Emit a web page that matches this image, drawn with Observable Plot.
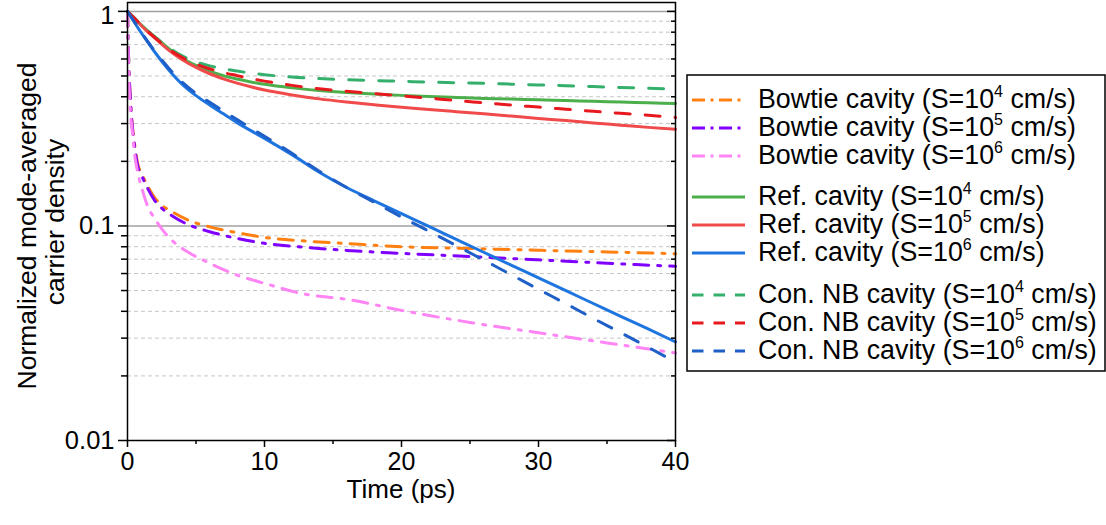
<!DOCTYPE html>
<html><head><meta charset="utf-8">
<script src="https://cdn.jsdelivr.net/npm/d3@7"></script>
<script src="https://cdn.jsdelivr.net/npm/@observablehq/plot@0.6"></script>
<style>body{margin:0;background:#fff;}</style>
</head><body><div id="chart"></div>
<script>
const FONT = "'Liberation Sans', Arial, Helvetica, sans-serif";

// ---- data (time in ps, normalized carrier density) ----
const timeBowtie = [0, 0.05, 0.1, 0.2, 0.36, 0.5, 0.73, 1.1, 1.46, 2, 2.5, 3.3, 4.5, 6, 8, 10, 13, 16, 20, 25, 30, 35, 40];
const bowtieS4 = [1, 0.72, 0.55, 0.40, 0.29, 0.245, 0.197, 0.172, 0.154, 0.135, 0.125, 0.116, 0.106, 0.099, 0.093, 0.0884, 0.085, 0.0828, 0.0800, 0.0785, 0.0770, 0.0757, 0.0742];
const bowtieS5 = [1, 0.72, 0.55, 0.40, 0.285, 0.24, 0.192, 0.168, 0.150, 0.131, 0.121, 0.111, 0.101, 0.094, 0.0875, 0.083, 0.0795, 0.0769, 0.0745, 0.0720, 0.0695, 0.0670, 0.0648];
const bowtieS6 = [1, 0.65, 0.48, 0.35, 0.272, 0.22, 0.18, 0.146, 0.124, 0.108, 0.097, 0.085, 0.075, 0.067, 0.059, 0.054, 0.048, 0.0455, 0.0404, 0.0355, 0.0318, 0.0285, 0.0256];

const timeCavity = [0, 0.5, 1, 1.5, 2, 3, 4, 5, 6, 7, 8, 9, 10, 12, 14, 16, 18, 20, 22, 24, 26, 28, 30, 32, 34, 36, 38, 40];
const refS4 = [1, 0.93, 0.865, 0.81, 0.76, 0.672, 0.605, 0.56, 0.527, 0.502, 0.484, 0.469, 0.457, 0.440, 0.428, 0.419, 0.412, 0.406, 0.401, 0.397, 0.393, 0.390, 0.387, 0.384, 0.381, 0.378, 0.375, 0.372];
const refS5 = [1, 0.93, 0.86, 0.80, 0.75, 0.66, 0.595, 0.548, 0.512, 0.485, 0.463, 0.445, 0.430, 0.408, 0.391, 0.378, 0.367, 0.357, 0.349, 0.341, 0.333, 0.325, 0.317, 0.310, 0.302, 0.295, 0.288, 0.282];
const refS6 = [1, 0.89, 0.795, 0.715, 0.645, 0.535, 0.457, 0.405, 0.366, 0.333, 0.303, 0.278, 0.256, 0.215, 0.178, 0.151, 0.131, 0.114, 0.0995, 0.0866, 0.0754, 0.0657, 0.0573, 0.0499, 0.0435, 0.0379, 0.0331, 0.0288];
const conS4 = [1, 0.93, 0.865, 0.81, 0.76, 0.68, 0.62, 0.582, 0.557, 0.54, 0.527, 0.516, 0.507, 0.494, 0.486, 0.480, 0.476, 0.472, 0.468, 0.465, 0.462, 0.458, 0.454, 0.450, 0.446, 0.442, 0.438, 0.435];
const conS5 = [1, 0.93, 0.862, 0.805, 0.755, 0.668, 0.61, 0.568, 0.54, 0.518, 0.502, 0.486, 0.473, 0.452, 0.436, 0.424, 0.414, 0.404, 0.394, 0.384, 0.375, 0.366, 0.358, 0.350, 0.342, 0.335, 0.328, 0.320];
const conS6 = [1, 0.895, 0.80, 0.72, 0.652, 0.545, 0.467, 0.415, 0.377, 0.343, 0.313, 0.286, 0.262, 0.218, 0.180, 0.151, 0.129, 0.110, 0.0945, 0.0810, 0.0693, 0.0593, 0.0507, 0.0434, 0.0371, 0.0318, 0.0272, 0.0232];

const seriesNames = ["Bowtie cavity", "Bowtie cavity", "Bowtie cavity", "Ref. cavity", "Ref. cavity", "Ref. cavity", "Con. NB cavity", "Con. NB cavity", "Con. NB cavity"];
const seriesExp = ["4", "5", "6", "4", "5", "6", "4", "5", "6"];
const yMajorTicks = [0.01, 0.1, 1];
const yMinorTicks = [0.02, 0.03, 0.04, 0.05, 0.06, 0.07, 0.08, 0.09, 0.2, 0.3, 0.4, 0.5, 0.6, 0.7, 0.8, 0.9];
const xMajorTicks = [0, 10, 20, 30, 40];
const xMinorTicks = [5, 15, 25, 35];

// ---- styles ----
const DASHDOT = "15,9,3,9", DASHED = "15,15";
const series = [
  {t: timeBowtie, v: bowtieS4, color: "#ff8010", dash: DASHDOT, lg: "13,5.5,3,5.5"},
  {t: timeBowtie, v: bowtieS5, color: "#8000ff", dash: DASHDOT, lg: "13,5.5,3,5.5"},
  {t: timeBowtie, v: bowtieS6, color: "#ff85f5", dash: DASHDOT, lg: "13,5.5,3,5.5"},
  {t: timeCavity, v: refS4, color: "#4caf4c", dash: null, lg: null},
  {t: timeCavity, v: refS5, color: "#f04a4a", dash: null, lg: null},
  {t: timeCavity, v: refS6, color: "#1f75e0", dash: null, lg: null},
  {t: timeCavity, v: conS4, color: "#35b06c", dash: DASHED, lg: "11.5,10"},
  {t: timeCavity, v: conS5, color: "#e8191e", dash: DASHED, lg: "11.5,10"},
  {t: timeCavity, v: conS6, color: "#1f5fc8", dash: DASHED, lg: "11.5,10"}
];

const lineMarks = series.map(s => Plot.line(s.t.map((t, i) => ({t, v: s.v[i]})), {
  x: "t", y: "v", stroke: s.color, strokeWidth: 3, curve: "monotone-x",
  strokeDasharray: s.dash || undefined, strokeLinejoin: "round"
}));

const chart = Plot.plot({
  width: 1106, height: 525,
  marginLeft: 127, marginRight: 431, marginTop: 2, marginBottom: 85,
  style: {fontFamily: FONT, fontSize: "25px", color: "#000", background: "#fff", overflow: "visible"},
  x: {domain: [0, 40], label: null},
  y: {type: "log", domain: [0.01, 1.1], label: null},
  marks: [
    Plot.ruleY(yMinorTicks, {stroke: "#c6c6c6", strokeDasharray: "4,3", strokeWidth: 1}),
    Plot.ruleY([0.1, 1], {stroke: "#a0a0a0", strokeWidth: 1.5}),
    ...lineMarks,
    Plot.frame({stroke: "#000", strokeWidth: 1.5}),
    Plot.axisY(yMajorTicks, {tickSize: 9, tickPadding: 4, tickFormat: () => "", label: null, strokeWidth: 1.5}),
    Plot.axisY(yMajorTicks.filter(d => d < 1), {tickSize: 0, tickPadding: 13, tickFormat: d => String(d), fontSize: 25.5, label: null}),
    Plot.axisY(yMajorTicks.filter(d => d === 1), {tickSize: 0, tickPadding: 13, dy: 4, tickFormat: d => String(d), fontSize: 25.5, label: null}),
    Plot.axisY(yMinorTicks, {tickSize: 6, tickFormat: () => "", label: null, strokeWidth: 1.5}),
    Plot.axisY(yMajorTicks, {anchor: "right", tickSize: 9, dx: -9, tickFormat: () => "", label: null, strokeWidth: 1.5}),
    Plot.axisY(yMinorTicks, {anchor: "right", tickSize: 5, dx: -5, tickFormat: () => "", label: null, strokeWidth: 1.5}),
    Plot.axisX(xMajorTicks, {tickSize: 7, tickPadding: 5, fontSize: 25, label: null, strokeWidth: 1.5}),
    Plot.axisX(xMinorTicks, {tickSize: 4, tickFormat: () => "", label: null, strokeWidth: 1.5})
  ]
});
document.getElementById("chart").append(chart);

const svg = d3.select(chart);
// axis titles
svg.append("text").attr("x", 401).attr("y", 498).attr("text-anchor", "middle")
  .attr("font-family", FONT).attr("font-size", 26).attr("fill", "#000").text("Time (ps)");
const yt = svg.append("g").attr("font-family", FONT).attr("font-size", 26.5).attr("fill", "#000").attr("text-anchor", "middle");
yt.append("text").attr("transform", "translate(36,226) rotate(-90)").text("Normalized mode-averaged");
yt.append("text").attr("transform", "translate(64,222) rotate(-90)").text("carrier density");

// legend
const lg = svg.append("g").attr("text-anchor", "start");
lg.append("rect").attr("x", 687).attr("y", 75).attr("width", 418).attr("height", 296)
  .attr("fill", "#fff").attr("stroke", "#000").attr("stroke-width", 1.5);
const baselines = [108, 136, 164, 205, 233, 261, 303, 331, 359];
series.forEach((s, i) => {
  const yb = baselines[i];
  lg.append("line").attr("x1", 692).attr("x2", 745).attr("y1", yb - 8).attr("y2", yb - 8)
    .attr("stroke", s.color).attr("stroke-width", 3).attr("stroke-dasharray", s.lg);
  const tx = lg.append("text").attr("x", 758).attr("y", yb).attr("font-family", FONT)
    .attr("font-size", 26.8).attr("fill", "#000").attr("text-anchor", "start");
  tx.append("tspan").text(seriesNames[i] + " (S=10");
  tx.append("tspan").attr("dy", -11).attr("font-size", 16).text(seriesExp[i]);
  tx.append("tspan").attr("dy", 11).attr("font-size", 26.8).text(" cm/s)");
});
</script>
</body></html>
